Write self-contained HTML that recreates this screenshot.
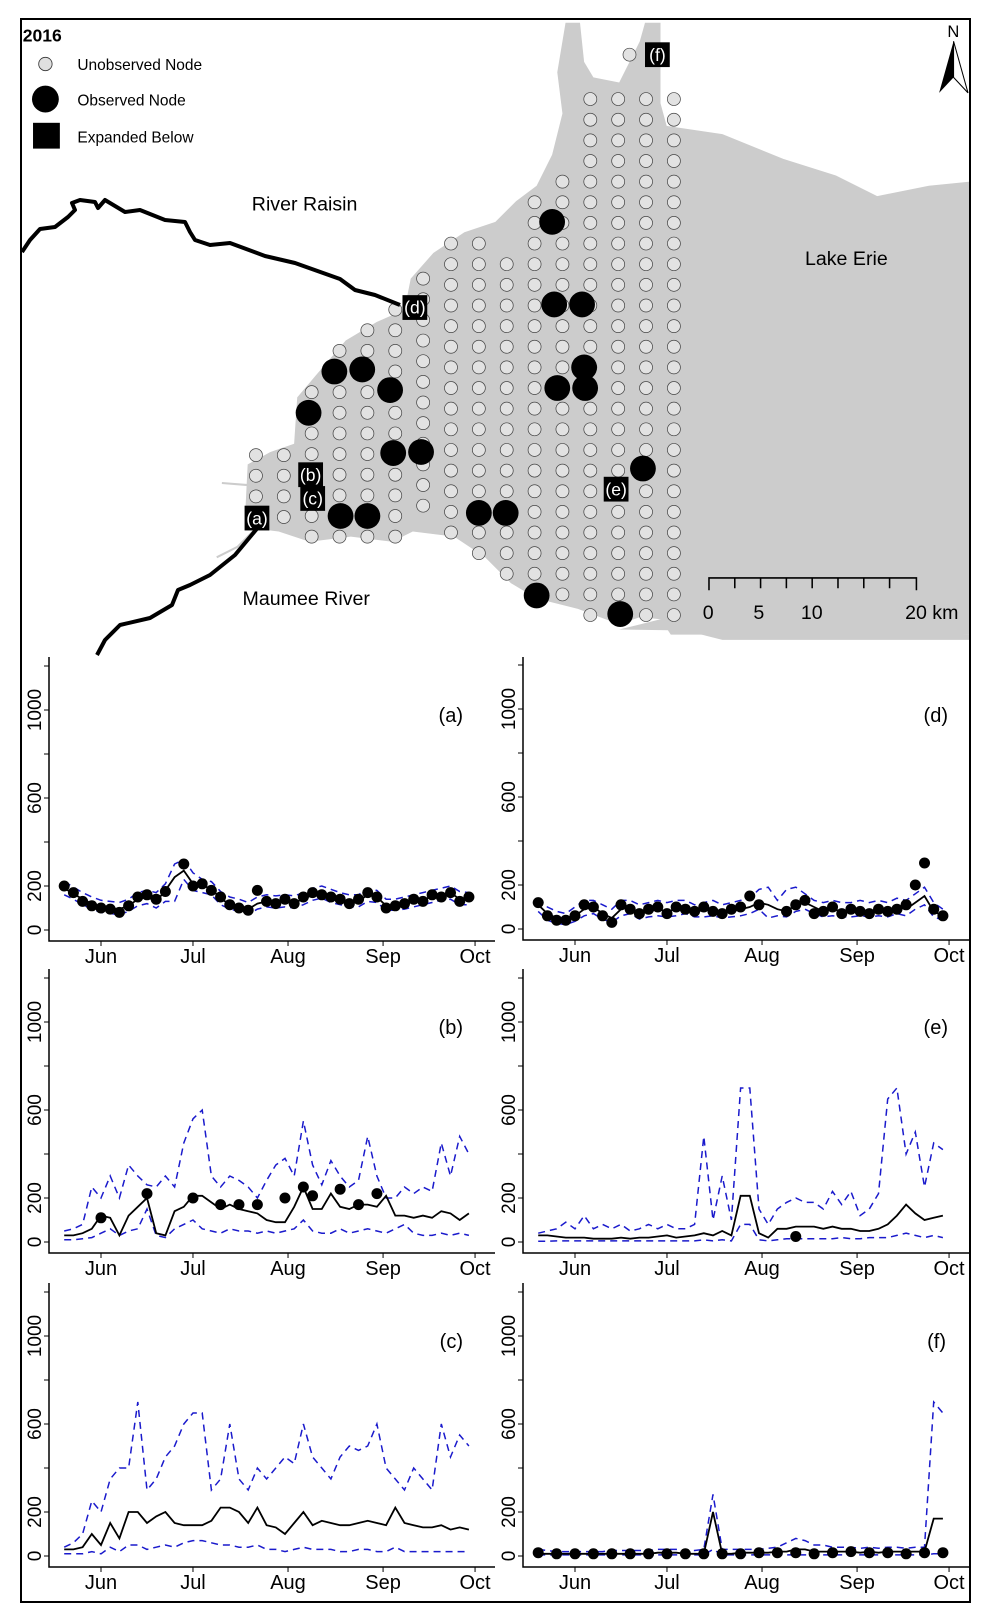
<!DOCTYPE html>
<html><head><meta charset="utf-8"><title>2016 nodes map and time series</title>
<style>
html,body{margin:0;padding:0;background:#fff;}
svg{display:block;font-family:"Liberation Sans",sans-serif;}
</style></head>
<body>
<svg id="fig" width="986" height="1610" viewBox="0 0 986 1610" xmlns="http://www.w3.org/2000/svg">
<rect x="0" y="0" width="986" height="1610" fill="#fff"/>
<g id="map">
  <g transform="scale(1.032)">
    <path fill="#cccccc" d="M548,22 L562,22 L566,60 L575,75 L600,80 L620,40 L625,22 L640,22 L640,100 L646,122 L700,130 L759,154 L810,170 L850,190 L900,180 L940,176 L940,615 L650,615 L640,600 L620,598 L600,605 L560,590 L520,580 L495,565 L470,540 L440,520 L400,515 L380,525 L340,520 L300,525 L270,515 L245,512 L238,490 L240,450 L262,438 L285,430 L288,385 L305,365 L335,330 L365,312 L392,300 L398,270 L420,245 L450,225 L480,215 L500,195 L520,180 L535,150 L545,110 L540,70 Z"/>
    <path fill="#cccccc" d="M600,610 L640,600 L680,615 L700,620 L940,620 L940,615 Z"/>
    <path fill="none" stroke="#cccccc" stroke-width="2" d="M255,505 L230,530 L210,540 M240,470 L215,468"/>
    <g id="nodes"></g>
    <g id="obsnodes"></g>
    <g id="labels"></g>
    <text x="22" y="40" font-size="17" font-weight="bold">2016</text>
    <circle cx="44" cy="62" r="6.5" fill="#e0e0e0" stroke="#333" stroke-width="0.8"/>
    <text x="75" y="68" font-size="15">Unobserved Node</text>
    <circle cx="44" cy="96" r="13" fill="#000"/>
    <text x="75" y="102" font-size="15">Observed Node</text>
    <rect x="32" y="119" width="26" height="25" fill="#000"/>
    <text x="75" y="138" font-size="15">Expanded Below</text>
    <text x="244" y="204" font-size="19">River Raisin</text>
    <text x="780" y="257" font-size="19">Lake Erie</text>
    <text x="235" y="586" font-size="19">Maumee River</text>
    <g stroke="#000" stroke-width="1.5" fill="none">
      <path d="M687,572 L687,560 L888,560 L888,572 M712,560 L712,570 M737,560 L737,570 M762,560 L762,570 M787,560 L787,570 M812,560 L812,570 M837,560 L837,570 M862,560 L862,570"/>
    </g>
    <text x="681" y="600" font-size="19">0</text>
    <text x="730" y="600" font-size="19">5</text>
    <text x="776" y="600" font-size="19">10</text>
    <text x="877" y="600" font-size="19">20 km</text>
    <g>
      <text x="918" y="36" font-size="16">N</text>
      <path d="M924,40 L910,90 L924,75 Z" fill="#000"/>
      <path d="M924,40 L938,90 L924,75 Z" fill="#fff" stroke="#000" stroke-width="1"/>
    </g>
  </g>
  <path fill="none" stroke="#000" stroke-width="4" stroke-linejoin="round" d="M22,252 L30,240 L40,229 L55,227 L68,217 L75,210 L72,203 L80,200 L95,202 L98,208 L105,200 L125,212 L140,210 L165,220 L185,222 L190,232 L195,240 L210,245 L230,243 L265,256 L295,263 L340,279 L355,290 L375,295 L400,305"/>
  <path fill="none" stroke="#000" stroke-width="4" stroke-linejoin="round" d="M97,655 L105,640 L120,625 L150,618 L172,605 L178,590 L190,585 L210,575 L235,555 L260,525"/>
</g>
<g id="panels"></g>
<rect x="21" y="19" width="949" height="1583" fill="none" stroke="#000" stroke-width="2"/>
</svg>
<script>
// ---------- MAP DATA ----------
const nodeCols = [248,275,302,329,356,383,410,437,464,491,518,545,572,599,626,653];
const nodeColMin = [441,441,380,340,320,300,270,236,236,256,196,176,96,96,96,96];
const nodeColMax = [501,501,520,520,520,520,500,520,540,560,580,580,600,600,600,600];
const obsX = [535,537,564,324,351,378,566,540,567,299,381,408,623,330,356,464,490,520,601];
const obsY = [215,295,295,360,358,378,356,376,376,400,439,438,454,500,500,497,497,577,595];
const markerText = ["(f)","(d)","(b)","(c)","(a)","(e)"];
const markerX = [637,402,301,303,249,597];
const markerY = [53,298,460,483,502,474];

// ---------- CHART DATA (day offsets from Jun 1) ----------
const days = [-12,-9,-6,-3,0,3,6,9,12,15,18,21,24,27,30,33,36,39,42,45,48,51,54,57,60,63,66,69,72,75,78,81,84,87,90,93,96,99,102,105,108,111,114,117,120];
const monthLabels = ["Jun","Jul","Aug","Sep","Oct"];
const monthDays = [0,30,61,92,122];
const yTickValues = [0,200,400,600,800,1000,1200];
const yTickLabels = ["0","200","","600","","1000",""];

const A_mean=[190,165,140,120,105,100,95,110,140,150,130,180,240,270,210,200,190,140,120,110,95,120,130,125,130,125,140,160,170,150,140,130,130,160,150,110,110,120,130,140,150,160,170,140,140];
const A_up=[220,195,170,150,135,130,125,140,170,180,170,210,300,320,260,230,220,175,150,140,125,150,160,155,160,155,170,190,200,185,170,160,160,190,180,140,140,150,160,170,180,190,200,175,170];
const A_lo=[160,140,115,95,80,75,70,85,110,120,100,130,130,230,180,170,160,115,95,85,70,95,105,100,105,100,115,135,145,125,115,105,105,130,125,90,90,95,105,115,125,135,140,115,115];
const A_obs=[200,170,130,110,100,95,80,110,150,160,140,175,null,300,200,210,180,150,115,100,90,180,130,120,140,120,150,170,160,150,140,120,140,170,150,100,110,120,140,130,160,150,170,130,150];

const D_mean=[110,70,50,40,60,90,100,70,50,90,100,70,80,90,80,90,100,80,85,90,80,80,90,100,120,110,90,80,110,120,100,80,90,80,80,90,80,90,80,100,90,120,150,80,60];
const D_up=[140,100,80,70,100,130,130,110,90,130,130,110,120,130,120,130,130,110,120,130,110,120,130,140,180,190,130,180,190,160,130,120,130,120,120,130,120,130,120,140,130,160,190,120,90];
const D_lo=[80,40,25,20,35,60,70,45,30,60,70,45,55,60,55,60,70,55,55,60,50,55,60,70,90,50,60,55,80,90,70,55,60,55,55,60,55,60,55,70,60,90,110,55,40];
const D_obs=[120,60,40,40,60,110,100,60,30,110,90,70,90,100,70,100,90,80,100,80,70,90,100,150,110,null,null,80,110,130,70,80,100,70,90,80,70,90,80,90,110,200,300,90,60];

const B_mean=[30,30,40,60,120,110,30,120,160,200,40,30,140,160,210,210,180,150,170,150,140,130,100,90,90,160,250,150,150,220,160,150,170,170,160,210,120,120,110,120,110,140,130,100,130];
const B_up=[50,60,80,250,200,300,200,350,300,260,250,300,250,450,560,600,300,250,300,280,250,200,280,350,380,300,550,350,260,370,300,250,280,480,300,200,200,250,220,250,230,450,300,480,400];
const B_lo=[10,10,15,20,40,60,30,50,60,150,30,20,60,80,100,60,50,40,60,50,50,40,50,40,50,60,100,50,40,40,60,40,50,60,50,40,60,80,40,30,30,40,30,40,30];
const B_obs=[null,null,null,null,110,null,null,null,null,220,null,null,null,null,200,null,null,170,null,170,null,170,null,null,200,null,250,210,null,null,240,null,170,null,220,null,null,null,null,null,null,null,null,null,null];

const C_mean=[30,30,40,100,50,150,80,200,200,150,180,200,150,140,140,140,160,220,220,200,150,220,140,130,100,150,200,140,160,150,140,140,150,160,150,140,220,150,140,130,130,140,120,130,120];
const C_up=[40,60,100,250,200,350,400,400,700,300,350,450,500,600,650,650,300,350,600,350,300,400,350,400,450,420,600,450,400,350,450,500,480,500,600,400,350,300,400,350,300,600,450,550,500];
const C_lo=[10,10,10,20,10,40,20,50,50,30,40,50,40,60,70,70,60,50,50,40,40,50,30,30,20,30,40,30,30,30,20,20,30,30,20,20,40,20,20,20,20,20,20,20,20];

const E_mean=[30,30,25,20,20,20,15,15,15,20,15,20,20,25,30,20,25,30,40,30,50,30,210,210,40,20,60,60,70,70,70,60,70,60,60,50,50,60,80,120,170,130,100,110,120];
const E_up=[40,50,60,90,60,120,60,80,60,80,50,60,80,60,80,60,60,80,480,100,300,100,700,700,150,80,150,180,200,180,180,150,230,170,230,120,150,220,650,700,400,500,250,450,420];
const E_lo=[3,3,5,5,5,5,5,5,5,5,5,5,5,5,5,5,5,5,10,5,10,5,80,80,10,5,10,15,15,15,15,15,15,20,15,15,20,20,20,30,40,30,20,30,20];
const E_obs=[null,null,null,null,null,null,null,null,null,null,null,null,null,null,null,null,null,null,null,null,null,null,null,null,null,null,null,null,25,null,null,null,null,null,null,null,null,null,null,null,null,null,null,null,null];

const F_mean=[10,10,10,10,10,10,10,10,10,10,10,10,10,15,15,15,10,10,10,200,10,10,15,15,15,15,20,20,30,30,20,20,20,20,20,15,20,15,20,20,20,20,20,170,170];
const F_up=[30,25,20,20,20,20,20,20,25,25,25,25,25,30,30,30,25,25,30,280,30,30,30,30,30,35,40,60,80,70,50,50,40,40,40,35,40,35,40,40,35,40,40,700,650];
const F_lo=[5,5,5,5,5,5,5,5,5,5,5,5,5,5,5,5,5,5,5,30,5,5,5,5,5,5,5,5,5,5,5,5,5,5,5,5,5,5,5,5,5,5,5,10,10];
const F_obs=[15,null,10,null,10,null,10,null,10,null,10,null,10,null,10,null,10,null,10,null,10,null,10,null,15,null,15,null,15,null,10,null,15,null,20,null,15,null,15,null,10,null,15,null,15];

const NS="http://www.w3.org/2000/svg";
function mk(tag, parent){const e=document.createElementNS(NS,tag);parent.appendChild(e);return e;}

// ---- map nodes ----
const nodesG=document.getElementById('nodes');
for(let c=0;c<nodeCols.length;c++){
  for(let y=nodeColMin[c]; y<=nodeColMax[c]; y+=20){
    const e=mk('circle',nodesG);
    
    
    e.setAttribute('cx',nodeCols[c]);e.setAttribute('cy',y);e.setAttribute('r',6.3);
    e.setAttribute('fill','#e2e2e2');e.setAttribute('stroke','#444');e.setAttribute('stroke-width','0.7');
  }
}
{const e=mk('circle',nodesG);


e.setAttribute('cx',610);e.setAttribute('cy',53);e.setAttribute('r',6.3);e.setAttribute('fill','#e2e2e2');e.setAttribute('stroke','#444');e.setAttribute('stroke-width','0.7');}
const obsG=document.getElementById('obsnodes');
for(let i=0;i<obsX.length;i++){
  const e=mk('circle',obsG);
  
  
  e.setAttribute('cx',obsX[i]);e.setAttribute('cy',obsY[i]);e.setAttribute('r',12.5);e.setAttribute('fill','#000');
}
const labG=document.getElementById('labels');
for(let i=0;i<markerText.length;i++){
  const r=mk('rect',labG);
  
  
  r.setAttribute('x',markerX[i]-12);r.setAttribute('y',markerY[i]-12);r.setAttribute('width',24);r.setAttribute('height',24);r.setAttribute('fill','#000');
  const t=mk('text',labG);
  
  
  t.setAttribute('x',markerX[i]);t.setAttribute('y',markerY[i]+6);t.setAttribute('text-anchor','middle');t.setAttribute('font-size','17');t.setAttribute('fill','#fff');
  t.textContent=markerText[i];
}

// ---- panels ----
const panels=[
 {id:'a',ax:49,jun:101,zero:930,top:657,mean:A_mean,up:A_up,lo:A_lo,obs:A_obs,lx:463},
 {id:'d',ax:523,jun:575,zero:929,top:657,mean:D_mean,up:D_up,lo:D_lo,obs:D_obs,lx:948},
 {id:'b',ax:49,jun:101,zero:1242,top:969,mean:B_mean,up:B_up,lo:B_lo,obs:B_obs,lx:463},
 {id:'e',ax:523,jun:575,zero:1242,top:969,mean:E_mean,up:E_up,lo:E_lo,obs:E_obs,lx:948},
 {id:'c',ax:49,jun:101,zero:1556,top:1283,mean:C_mean,up:C_up,lo:C_lo,obs:null,lx:463},
 {id:'f',ax:523,jun:575,zero:1556,top:1283,mean:F_mean,up:F_up,lo:F_lo,obs:F_obs,lx:946}
];
const PX_PER_DAY=3.066, PX_PER_UNIT=0.22;
const root=document.getElementById('panels');
panels.forEach(p=>{
  const g=mk('g',root);
  
  
  const X=d=>p.jun+d*PX_PER_DAY, Y=v=>p.zero-v*PX_PER_UNIT;
  const xAxisY=p.zero+11, right=p.ax+446;
  const ax=mk('path',g);
  
  
  ax.setAttribute('d',`M${p.ax},${p.top} L${p.ax},${xAxisY} L${right},${xAxisY}`);
  ax.setAttribute('stroke','#000');ax.setAttribute('stroke-width','1.5');ax.setAttribute('fill','none');
  yTickValues.forEach((v,i)=>{
    const t=mk('line',g);
    
    
    t.setAttribute('x1',p.ax-5);t.setAttribute('x2',p.ax);t.setAttribute('y1',Y(v));t.setAttribute('y2',Y(v));t.setAttribute('stroke','#000');
    if(yTickLabels[i]){
      const tx=mk('text',g);
      
      
      tx.setAttribute('transform',`translate(${p.ax-8},${Y(v)}) rotate(-90)`);
      tx.setAttribute('text-anchor','middle');tx.setAttribute('font-size','19');
      tx.textContent=yTickLabels[i];
    }
  });
  monthDays.forEach((d,i)=>{
    const t=mk('line',g);
    
    
    t.setAttribute('x1',X(d));t.setAttribute('x2',X(d));t.setAttribute('y1',xAxisY);t.setAttribute('y2',xAxisY+5);t.setAttribute('stroke','#000');
    const tx=mk('text',g);
    
    
    tx.setAttribute('x',X(d));tx.setAttribute('y',xAxisY+22);tx.setAttribute('text-anchor','middle');tx.setAttribute('font-size','20');
    tx.textContent=monthLabels[i];
  });
  const line=(arr,name,stroke,dash,w)=>{
    const pts=arr.map((v,i)=>X(days[i]).toFixed(1)+','+Y(v).toFixed(1)).join(' ');
    const e=mk('polyline',g);
    
    
    e.setAttribute('points',pts);e.setAttribute('fill','none');e.setAttribute('stroke',stroke);e.setAttribute('stroke-width',w);
    if(dash)e.setAttribute('stroke-dasharray',dash);
  };
  line(p.up,'upper-bound-line','#1a1acc','7,5',1.5);
  line(p.lo,'lower-bound-line','#1a1acc','7,5',1.5);
  line(p.mean,'mean-line','#000',null,1.8);
  if(p.obs){
    p.obs.forEach((v,i)=>{
      if(v===null)return;
      const c=mk('circle',g);
      
      
      c.setAttribute('cx',X(days[i]));c.setAttribute('cy',Y(v));c.setAttribute('r',5.5);c.setAttribute('fill','#000');
    });
  }
  const lb=mk('text',g);
  
  
  lb.setAttribute('x',p.lx);lb.setAttribute('y',p.top+65);lb.setAttribute('text-anchor','end');lb.setAttribute('font-size','20');
  lb.textContent='('+p.id+')';
});
</script>
</body></html>
